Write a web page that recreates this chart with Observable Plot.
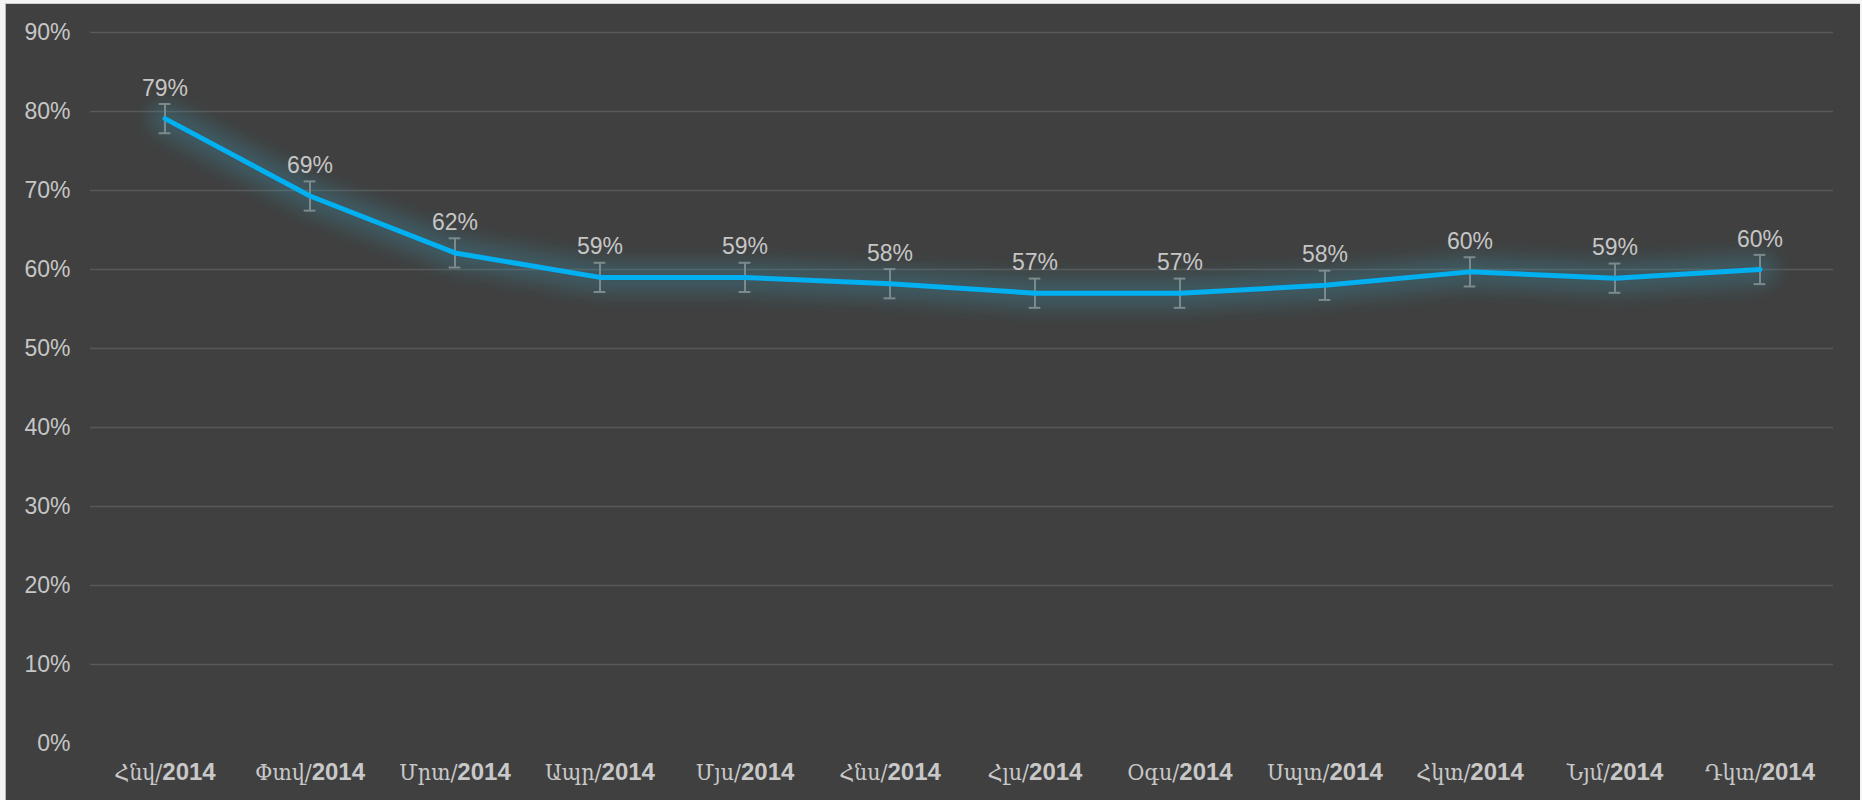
<!DOCTYPE html>
<html>
<head>
<meta charset="utf-8">
<script src="https://cdn.jsdelivr.net/npm/d3@7"></script>
<script src="https://cdn.jsdelivr.net/npm/@observablehq/plot@0.6"></script>
<style>
  html, body { margin: 0; padding: 0; background: #f4f4f4; width: 1862px; height: 800px; overflow: hidden; }
  #frame { position: absolute; left: 5px; top: 3px; width: 1854px; height: 797px; background: #404040; border-left: 1px solid #b8b8b8; border-top: 1px solid #d0d0d0; }
  #chart { position: absolute; left: 0px; top: 0px; }
</style>
</head>
<body>
<div id="frame"><div id="chart"></div></div>
<script>
const months = ["Հնվ/2014", "Փտվ/2014", "Մրտ/2014", "Ապր/2014", "Մյս/2014", "Հնս/2014", "Հլս/2014", "Օգս/2014", "Սպտ/2014", "Հկտ/2014", "Նյմ/2014", "Դկտ/2014"];
const shares = [0.791, 0.693, 0.621, 0.590, 0.590, 0.582, 0.570, 0.570, 0.580, 0.597, 0.589, 0.600];
const errors = [0.0185, 0.0185, 0.0185, 0.0185, 0.0185, 0.0185, 0.0185, 0.0185, 0.0185, 0.0185, 0.0185, 0.0185];
const yTicks = [0, 0.1, 0.2, 0.3, 0.4, 0.5, 0.6, 0.7, 0.8, 0.9];

const data = months.map((m, i) => ({m, v: shares[i], lo: shares[i] - errors[i], hi: shares[i] + errors[i]}));
const pct = d3.format(".0%");
const bandW = (1827 - 84) / months.length;
const capInset = (bandW - 12) / 2;

const chart = Plot.plot({
  width: 1854,
  height: 796,
  marginLeft: 84,
  marginRight: 27,
  marginTop: 28,
  marginBottom: 57,
  style: {background: "transparent", color: "#c6c6c6", fontFamily: "'Liberation Sans', Arial, sans-serif", fontSize: "23px"},
  x: {type: "band", domain: months, padding: 0, label: null, tickSize: 0, tickPadding: 20},
  y: {domain: [0, 0.9], ticks: yTicks, tickFormat: pct, label: null, tickSize: 0, tickPadding: 20},
  marks: [
    Plot.gridY(yTicks.filter(t => t > 0), {stroke: "#585858", strokeOpacity: 1, strokeWidth: 1.3}),
    Plot.line(data, {x: "m", y: "v", stroke: "#3a95ad", strokeWidth: 32, strokeOpacity: 0.3, strokeLinejoin: "round", strokeLinecap: "round"}),
    Plot.ruleX(data, {x: "m", y1: "lo", y2: "hi", stroke: "#7b8b8d", strokeWidth: 2}),
    Plot.tickY(data, {x: "m", y: "lo", stroke: "#7b8b8d", strokeWidth: 2, insetLeft: capInset, insetRight: capInset}),
    Plot.tickY(data, {x: "m", y: "hi", stroke: "#7b8b8d", strokeWidth: 2, insetLeft: capInset, insetRight: capInset}),
    Plot.line(data, {x: "m", y: "v", stroke: "#00b0f0", strokeWidth: 5, strokeLinejoin: "round", strokeLinecap: "round"}),
    Plot.text(data, {x: "m", y: "v", text: d => pct(d.v), dy: -23, lineAnchor: "bottom", fill: "#c6c6c6", fontSize: 23})
  ]
});
document.getElementById("chart").appendChild(chart);

// soft glow behind the line
const svg = d3.select(chart);
const defs = svg.insert("defs", ":first-child");
defs.append("filter").attr("id", "glow").attr("x", "-20%").attr("y", "-50%").attr("width", "140%").attr("height", "200%")
  .append("feGaussianBlur").attr("stdDeviation", 9);
const lines = svg.selectAll("g[aria-label='line']").nodes();
if (lines.length) d3.select(lines[0]).attr("filter", "url(#glow)");

// x labels: serif month + bold year
svg.selectAll("g[aria-label='x-axis tick label'] text").each(function() {
  const t = d3.select(this);
  const s = t.text();
  const k = s.indexOf("/");
  t.text(null);
  t.append("tspan").attr("font-family", "'DejaVu Serif', serif").attr("font-stretch", "condensed").attr("font-size", 23).attr("fill", "#c8c8c8").text(s.slice(0, k + 1));
  t.append("tspan").attr("font-weight", "bold").attr("font-size", 24).attr("fill", "#c8c8c8").text(s.slice(k + 1));
});
</script>
</body>
</html>
